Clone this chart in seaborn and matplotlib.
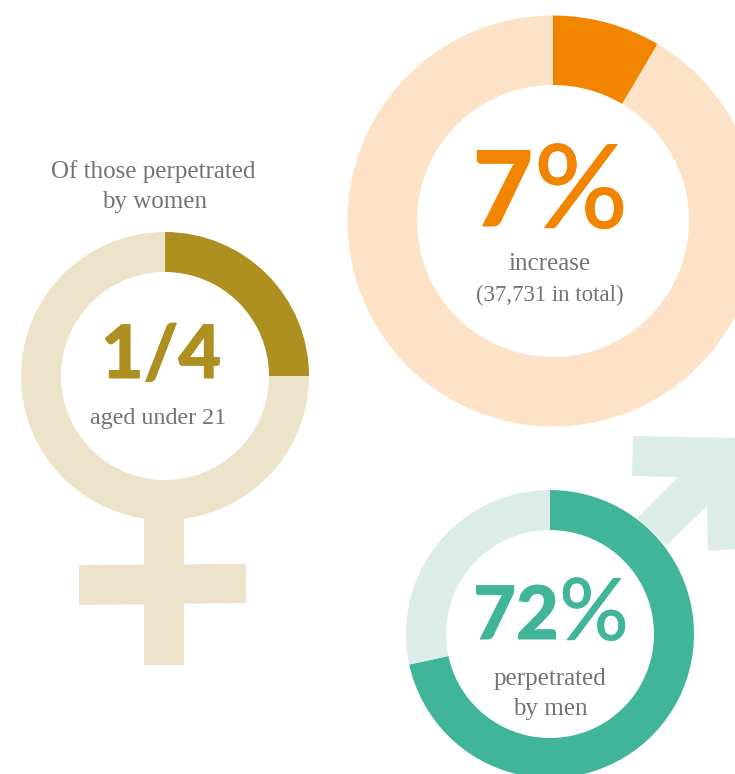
import matplotlib
matplotlib.use('Agg')
import matplotlib.pyplot as plt
import matplotlib.patheffects as pe
from matplotlib.patches import Polygon, Rectangle
import seaborn as sns

sns.set_theme(style='white')

# share of each ring
orange_share = [8.5, 91.5]
green_share = [71.6, 28.4]
olive_share = [25, 75]

orange = ['#f28500', '#fde2c8']
green = ['#41b59a', '#dcece6']
olive = ['#ad9020', '#ece3ca']

text_grey = '#777173'
W, H = 735, 774


def py(y):
    # picture coords run downwards
    return H - y


def ring(ax, share, colors, cx, cy, r, thick, z):
    ax.pie(share, colors=colors, startangle=90, counterclock=False,
           center=(cx, py(cy)), radius=r,
           wedgeprops={'width': thick, 'linewidth': 0, 'zorder': z})


def label(ax, x, y, s, size=18):
    ax.text(x, py(y), s, ha='center', va='baseline', fontsize=size,
            family='Liberation Serif', color=text_grey)


def big(ax, x, y, s, size, color, weight='black', stroke=0.7):
    t = ax.text(x, py(y), s, ha='center', va='baseline', fontsize=size, family='Lato',
                fontweight=weight, color=color)
    # Lato tops out lighter than the original face, thicken it a bit
    t.set_path_effects([pe.withStroke(linewidth=stroke, foreground=color)])


fig = plt.figure(figsize=(7.35, 7.74), dpi=100)
ax = fig.add_axes([0, 0, 1, 1])

# male arrow behind the green ring
arrow = [(633, 436), (735, 438), (735, 549), (708, 551), (707, 506), (667, 545),
         (637, 518), (678, 477), (632, 476)]
ax.add_patch(Polygon([(x, py(y)) for x, y in arrow], fc=green[1], lw=0, zorder=0))

# female cross
ax.add_patch(Rectangle((144, py(665)), 40, 155, fc=olive[1], lw=0, zorder=0))
ax.add_patch(Polygon([(79, py(565)), (246, py(564)), (246, py(603)), (79, py(605))],
                     fc=olive[1], lw=0, zorder=0))

ring(ax, orange_share, orange, 553, 221, 205.5, 69.5, 2)
ring(ax, green_share, green, 550, 634, 144, 40, 2)
ring(ax, olive_share, olive, 165, 376, 144, 40, 2)

ax.set_xlim(0, W)
ax.set_ylim(0, H)
ax.set_aspect('auto')
ax.axis('off')

# big numbers
big(ax, 503, 226, '7', 75, orange[0])
big(ax, 581, 228, '%', 84, orange[0], weight='medium', stroke=0.3)
big(ax, 516, 639, '72', 53, green[0])
big(ax, 594, 640, '%', 62, green[0], weight='medium', stroke=0.3)
big(ax, 161, 378, '1/4', 53, olive[0])

label(ax, 550, 270, 'increase')
label(ax, 550, 301, '(37,731 in total)', 16.5)
label(ax, 550, 685, 'perpetrated')
label(ax, 550, 715, 'by men')
label(ax, 153, 178, 'Of those perpetrated')
label(ax, 155, 208, 'by women')
label(ax, 158, 424, 'aged under 21', 17.3)

fig.savefig('out.png', dpi=100, facecolor='white')
